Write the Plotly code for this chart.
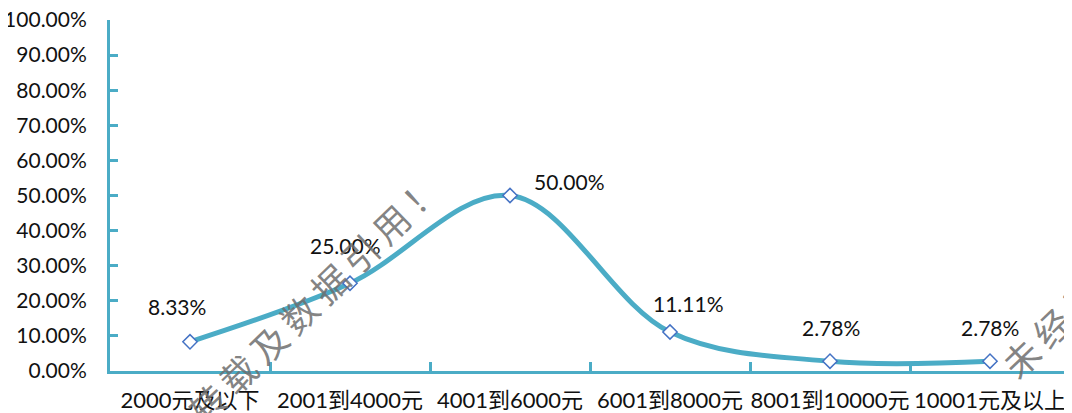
import plotly.graph_objects as go

categories = ["2000元及以下", "2001到4000元", "4001到6000元", "6001到8000元", "8001到10000元", "10001元及以上"]
values = [0.0833, 0.25, 0.50, 0.1111, 0.0278, 0.0278]
label_texts = ["8.33%", "25.00%", "50.00%", "11.11%", "2.78%", "2.78%"]
y_ticks = [i / 10 for i in range(11)]
watermark = "未经许可禁止转载及数据引用！"

# label offsets in pixels (layout)
label_shift = [(-13, 35), (-5, 38), (59, 14), (18, 29), (1, 34), (0, 34)]

AXIS = "#4BACC6"
FONT = "Lato, Noto Sans CJK SC, sans-serif"

# page offset (body margin) and plot area in screen pixels (layout)
OFF = 8
W, H = 1072, 413
X0, X1, Y0, Y1 = 110, 1070, 20, 371
L, T = X0 - OFF, Y0 - OFF
R, B = W - (X1 - OFF), H - (Y1 - OFF)
PW, PH = X1 - X0, Y1 - Y0

fig = go.Figure()
fig.add_trace(go.Scatter(
    x=categories, y=values, mode="lines+markers",
    line=dict(color=AXIS, width=5, shape="spline", smoothing=1.0),
    marker=dict(symbol="diamond", size=11, color="white",
                line=dict(color="#4472C4", width=1.5)),
    hoverinfo="skip", cliponaxis=False,
))

annotations = []
for c, v, t, (dx, dy) in zip(categories, values, label_texts, label_shift):
    annotations.append(dict(x=c, y=v, xref="x", yref="y", text=t, showarrow=False,
                            xshift=dx, yshift=dy, font=dict(family=FONT, size=21, color="#111111")))

# watermarks: one glyph per annotation along a diagonal
wm_font = dict(family="Noto Sans CJK SC", size=36, color="rgba(110,110,110,0.85)")
step = (30.5, -30.0)
wm_starts = [(237 - 7 * 30.5, 373 + 7 * 30.0), (1020, 357)]
for sx, sy in wm_starts:
    for i, ch in enumerate(watermark):
        px = sx + i * step[0]
        py = sy + i * step[1]
        if -60 < px < W + 60 and -60 < py < H + 60:
            annotations.append(dict(x=(px - X0) / PW, y=(Y1 - py) / PH,
                                    xref="paper", yref="paper", text=ch,
                                    showarrow=False, textangle=-44, font=wm_font,
                                    xanchor="center", yanchor="middle"))

fig.update_layout(
    width=W, height=H,
    margin=dict(l=L, r=R, t=T, b=B, autoexpand=False),
    paper_bgcolor="white", plot_bgcolor="white",
    showlegend=False,
    font=dict(family=FONT, size=20, color="#111111"),
    annotations=annotations,
)
fig.update_xaxes(
    type="category", range=[-0.5, 5.5],
    showline=True, linecolor=AXIS, linewidth=3,
    ticks="inside", tickson="boundaries", ticklen=9, tickwidth=3, tickcolor=AXIS,
    showgrid=False, zeroline=False, automargin=False, tickangle=0,
    tickfont=dict(family=FONT, size=22, color="#111111"),
    ticklabelstandoff=8, ticklabeloverflow="allow",
)
fig.update_yaxes(
    range=[0, 1], tickvals=y_ticks, tickformat=".2%",
    showline=True, linecolor=AXIS, linewidth=3,
    ticks="inside", ticklen=8, tickwidth=3, tickcolor=AXIS,
    showgrid=False, zeroline=False, automargin=False,
    tickfont=dict(family=FONT, size=21, color="#111111"),
    ticklabelstandoff=16, ticklabeloverflow="allow",
)

fig.write_html("out.html")
